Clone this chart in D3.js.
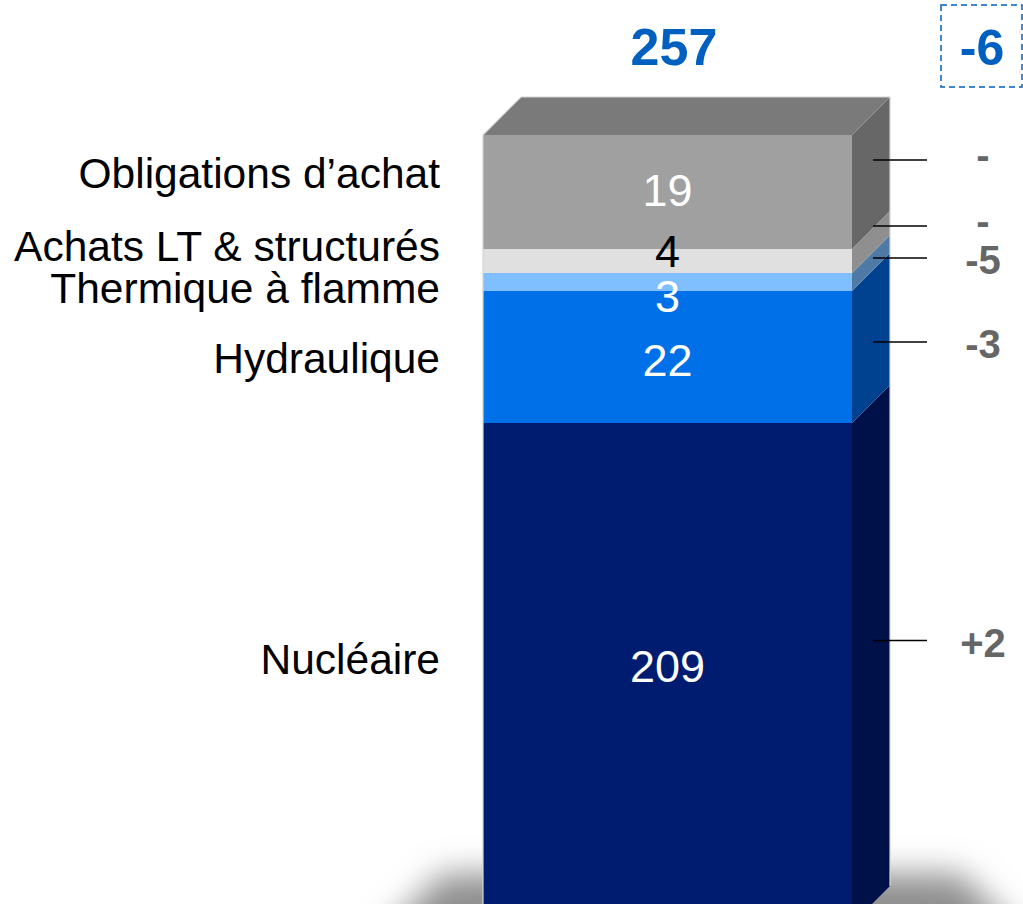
<!DOCTYPE html>
<html lang="fr">
<head>
<meta charset="utf-8">
<title>Production 3D stack</title>
<script src="https://d3js.org/d3.v7.min.js"></script>
<style>
  body { margin: 0; background: #fff; }
  svg { display: block; font-family: "Liberation Sans", Arial, sans-serif; }
</style>
</head>
<body>
<div id="viz"></div>
<script>
// data, bottom to top
var categories = ["Nucléaire", "Hydraulique", "Thermique à flamme", "Achats LT & structurés", "Obligations d’achat"];
var values = [209, 22, 3, 4, 19];
var deltas = ["+2", "-3", "-5", "-", "-"];
var totalValue = 257;
var totalDelta = "-6";

// styles
var frontColors = ["#001c70", "#0070e8", "#80bfff", "#e0e0e0", "#a0a0a0"];
var sideColors = ["#00114a", "#00428f", "#4f7aa6", "#8f8f8f", "#676767"];
var valueColors = ["#fff", "#fff", "#fff", "#000", "#fff"];
var valueNudge = [-8, 3, 14, -10, -2];
var labelNudge = [-15, 1, 6, -15, -19];
var tickNudge = [-14, 4, -5, -16, -13];

var width = 1023, height = 904;
var barLeft = 483, barRight = 852, depth = 38;
var barTop = 135, barBottom = 924, pxPerUnit = 6;

// broken scale: the large bottom segment is compressed
var breakValue = values[0];
var y = d3.scaleLinear()
    .domain([0, breakValue, totalValue])
    .range([barBottom, barTop + (totalValue - breakValue) * pxPerUnit, barTop]);

var stack = [];
var acc = 0;
values.forEach(function (v, i) {
    stack.push({i: i, name: categories[i], value: v, delta: deltas[i], y0: y(acc), y1: y(acc + v)});
    acc += v;
});

var svg = d3.select("#viz").append("svg")
    .attr("width", width).attr("height", height);

var defs = svg.append("defs");
defs.append("filter").attr("id", "blur")
    .attr("x", "-30%").attr("y", "-100%").attr("width", "160%").attr("height", "300%")
    .append("feGaussianBlur").attr("stdDeviation", 16);

// floor shadow
svg.append("path")
    .attr("d", "M" + (barLeft - 110) + "," + (barBottom + 20) +
        "L" + (barLeft - 40) + "," + (barBottom - 50) +
        "L" + (barRight + depth + 70) + "," + (barBottom - 50) +
        "L" + (barRight + depth + 140) + "," + (barBottom + 20) + "Z")
    .attr("fill", "#8e8e8e")
    .attr("filter", "url(#blur)");

var seg = svg.append("g").selectAll("g.seg").data(stack).enter().append("g").attr("class", "seg");

// front faces
seg.append("rect")
    .attr("x", barLeft)
    .attr("y", d => d.y1)
    .attr("width", barRight - barLeft)
    .attr("height", d => d.y0 - d.y1)
    .attr("fill", d => frontColors[d.i]);

// side faces
seg.append("path")
    .attr("d", d => "M" + barRight + "," + d.y0 +
        "L" + (barRight + depth) + "," + (d.y0 - depth) +
        "L" + (barRight + depth) + "," + (d.y1 - depth) +
        "L" + barRight + "," + d.y1 + "Z")
    .attr("fill", d => sideColors[d.i]);

// top face
svg.append("path")
    .attr("d", "M" + barLeft + "," + y(totalValue) +
        "L" + (barLeft + depth) + "," + (y(totalValue) - depth) +
        "L" + (barRight + depth) + "," + (y(totalValue) - depth) +
        "L" + barRight + "," + y(totalValue) + "Z")
    .attr("fill", "#7a7a7a");

// light outline
svg.append("path")
    .attr("d", "M" + barLeft + "," + barBottom + "L" + barLeft + "," + y(totalValue) +
        "L" + (barLeft + depth) + "," + (y(totalValue) - depth) +
        "L" + (barRight + depth) + "," + (y(totalValue) - depth) +
        "L" + (barRight + depth) + "," + (barBottom - depth))
    .attr("fill", "none")
    .attr("stroke", "#d4d4d4")
    .attr("stroke-width", 1.2);

// texts on their own layer so no face covers them
var lab = svg.append("g").selectAll("g.lab").data(stack).enter().append("g").attr("class", "lab");

// values inside the bar
lab.append("text")
    .attr("x", (barLeft + barRight) / 2)
    .attr("y", d => (d.y0 + d.y1) / 2 + valueNudge[d.i])
    .attr("dy", "0.36em")
    .attr("text-anchor", "middle")
    .attr("font-size", 45)
    .attr("fill", d => valueColors[d.i])
    .text(d => d.value);

// category labels
lab.append("text")
    .attr("x", 440)
    .attr("y", d => (d.y0 + d.y1) / 2 + labelNudge[d.i])
    .attr("dy", "0.36em")
    .attr("text-anchor", "end")
    .attr("font-size", 42.5)
    .attr("fill", "#000")
    .text(d => d.name);

// leader ticks and deltas
var tickY = d => (d.y0 + d.y1) / 2 - depth / 2 + tickNudge[d.i];

lab.append("line")
    .attr("x1", 873).attr("x2", 927)
    .attr("y1", tickY)
    .attr("y2", tickY)
    .attr("stroke", "#000").attr("stroke-width", 1.5);

lab.append("text")
    .attr("x", 983)
    .attr("y", d => tickY(d) + (d.delta === "-" ? -5 : 2))
    .attr("dy", "0.36em")
    .attr("text-anchor", "middle")
    .attr("font-size", 40)
    .attr("font-weight", "bold")
    .attr("fill", "#666")
    .text(d => d.delta);

// total on top
svg.append("text")
    .attr("x", 674).attr("y", 65)
    .attr("text-anchor", "middle")
    .attr("font-size", 52)
    .attr("font-weight", "bold")
    .attr("fill", "#0060c0")
    .text(totalValue);

svg.append("rect")
    .attr("x", 941).attr("y", 5)
    .attr("width", 81).attr("height", 82)
    .attr("fill", "none")
    .attr("stroke", "#0060c0")
    .attr("stroke-width", 1.5)
    .attr("stroke-dasharray", "6,4");

svg.append("text")
    .attr("x", 982).attr("y", 65)
    .attr("text-anchor", "middle")
    .attr("font-size", 50)
    .attr("font-weight", "bold")
    .attr("fill", "#0060c0")
    .text(totalDelta);
</script>
</body>
</html>
